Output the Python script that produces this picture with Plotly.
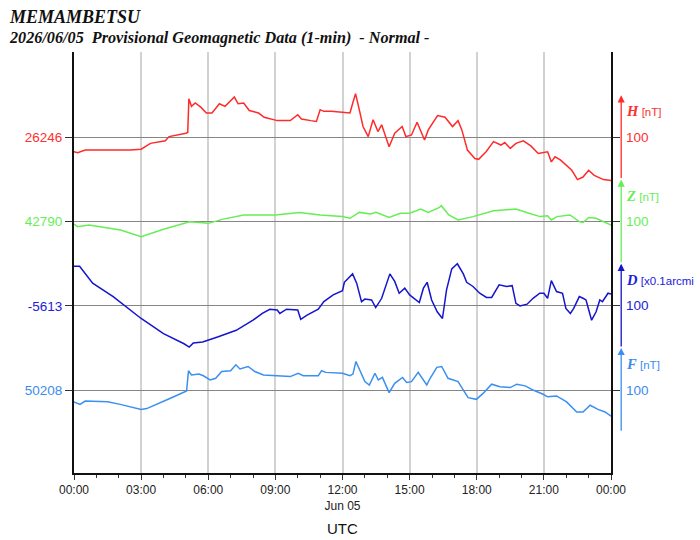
import plotly.graph_objects as go

# ---------------- data ----------------
H_time = ["00:00","00:10","00:30","01:30","02:30","03:00","03:25","04:05","04:15","05:00","05:05","05:08","05:15","05:25","05:40","05:55","06:10","06:30","06:45","07:10","07:20","07:35","07:50","08:15","08:30","09:05","09:40","10:00","10:10","10:35","10:50","11:00","11:10","11:30","12:00","12:20","12:27","12:35","12:45","12:55","13:09","13:22","13:35","13:45","14:05","14:20","14:40","14:50","15:05","15:20","15:40","15:50","16:15","16:35","16:55","17:10","17:20","17:35","17:55","18:05","18:25","18:45","19:05","19:15","19:30","19:45","20:05","20:25","20:45","21:10","21:20","21:30","21:45","22:15","22:30","22:45","23:00","23:15","23:40","24:00"]
H_val = [26229,26228,26231,26231,26231,26232,26239,26242,26247,26251,26252,26292,26283,26287,26282,26275,26275,26286,26283,26294,26286,26287,26278,26275,26270,26266,26266,26273,26268,26266,26265,26279,26277,26277,26276,26275,26286,26298,26279,26259,26247,26267,26253,26261,26235,26251,26259,26247,26249,26264,26243,26255,26272,26270,26259,26266,26255,26231,26221,26220,26229,26241,26237,26240,26233,26239,26242,26236,26227,26229,26217,26223,26219,26207,26196,26199,26207,26201,26196,26195]

Z_time = ["00:00","00:10","00:40","02:05","03:00","04:00","05:10","06:00","06:40","07:35","09:00","10:05","11:00","12:00","12:20","12:45","13:15","13:30","14:05","14:35","15:00","15:30","15:50","16:20","16:25","16:45","17:10","17:50","18:45","19:45","20:20","20:50","21:10","21:20","21:35","22:10","22:35","22:45","23:00","23:20","24:00"]
Z_val = [42787,42784,42786,42780,42772,42781,42790,42788,42793,42798,42798,42801,42798,42796,42794,42801,42799,42801,42795,42800,42800,42805,42801,42807,42809,42798,42792,42796,42803,42805,42800,42796,42797,42792,42796,42798,42790,42789,42795,42794,42786]

D_time = ["00:00","00:15","00:50","01:45","03:00","04:00","04:55","05:09","05:20","05:45","06:25","07:15","08:00","08:25","08:45","09:05","09:12","09:30","10:00","10:08","10:25","10:55","11:10","11:35","12:00","12:05","12:27","12:38","12:51","13:00","13:18","13:29","13:45","14:07","14:20","14:32","14:47","15:00","15:26","15:37","15:47","15:59","16:14","16:28","16:39","16:53","17:08","17:24","17:33","17:50","18:08","18:26","18:40","19:00","19:20","19:35","19:45","19:56","20:15","20:31","20:49","21:00","21:10","21:20","21:34","21:50","21:59","22:11","22:20","22:35","22:45","22:53","23:08","23:20","23:30","23:37","23:52","24:00"]
D_val = [-5566,-5566,-5586,-5602,-5628,-5646,-5658,-5662,-5657,-5656,-5650,-5642,-5630,-5622,-5617,-5618,-5622,-5617,-5618,-5629,-5624,-5617,-5608,-5600,-5595,-5585,-5575,-5586,-5608,-5605,-5606,-5615,-5604,-5575,-5584,-5598,-5592,-5600,-5609,-5592,-5585,-5606,-5620,-5628,-5594,-5569,-5563,-5575,-5585,-5590,-5598,-5603,-5603,-5588,-5590,-5589,-5610,-5613,-5611,-5604,-5598,-5598,-5604,-5583,-5596,-5598,-5616,-5622,-5616,-5602,-5604,-5606,-5630,-5620,-5606,-5608,-5598,-5599]

F_time = ["00:00","00:16","00:30","01:30","02:04","03:00","03:15","03:42","04:17","05:02","05:07","05:15","05:35","05:47","06:05","06:20","06:36","07:00","07:14","07:25","07:47","08:05","08:28","09:04","09:40","10:01","10:15","10:55","11:04","11:15","12:00","12:20","12:28","12:36","12:47","13:00","13:12","13:27","13:36","13:47","14:05","14:20","14:41","14:52","15:05","15:23","15:46","15:55","16:13","16:26","16:43","16:55","17:10","17:24","17:37","17:59","18:17","18:40","19:02","19:30","19:47","20:10","20:31","20:58","21:10","21:34","22:01","22:28","22:45","23:04","23:25","23:44","24:00"]
F_val = [50194,50191,50195,50194,50191,50185,50186,50191,50198,50207,50231,50226,50227,50225,50220,50222,50230,50231,50238,50233,50236,50230,50226,50225,50224,50228,50225,50225,50231,50229,50228,50225,50227,50242,50231,50218,50214,50228,50220,50223,50205,50216,50223,50217,50218,50229,50214,50222,50235,50236,50222,50220,50218,50208,50199,50197,50204,50215,50212,50211,50215,50213,50208,50203,50200,50201,50194,50182,50182,50190,50185,50182,50177]

components = ["H", "Z", "D", "F"]
baselines = [26246, 42790, -5613, 50208]
units = ["[nT]", "[nT]", "[x0.1arcmi", "[nT]"]
scale_label = "100"
colors = ["#ff2a2a", "#66ee55", "#1515cc", "#3a90f0"]
label_colors = ["#ff3030", "#66ee55", "#2020dd", "#3a8cf0"]
x_tickvals = ["00:00","03:00","06:00","09:00","12:00","15:00","18:00","21:00","24:00"]
x_ticktext = ["00:00","03:00","06:00","09:00","12:00<br>Jun 05","15:00","18:00","21:00","00:00"]
title1 = "MEMAMBETSU"
title2 = "2026/06/05\u00a0\u00a0Provisional Geomagnetic Data (1-min)\u00a0\u00a0- Normal -"


def ts(hm):
    h, m = hm.split(":")
    h = int(h)
    if h >= 24:
        return "2026-06-06 %02d:%s" % (h - 24, m)
    return "2026-06-05 %02d:%s" % (h, m)


times = [H_time, Z_time, D_time, F_time]
vals = [H_val, Z_val, D_val, F_val]

# plot-area geometry (pixels)
L, R, T, B = 74, 611.5, 52, 472.7
W, HH = 700, 540
pw, ph = R - L, B - T
span = 500.0          # units shown over the plot height
top_off = [101.5, 201.5, 301.5, 401.5]   # units above each baseline

fig = go.Figure()
axnames = ["y", "y2", "y3", "y4"]
for i in range(4):
    fig.add_trace(go.Scatter(
        x=[ts(t) for t in times[i]], y=vals[i], mode="lines",
        line=dict(color=colors[i], width=1.5), yaxis=axnames[i],
        showlegend=False, hoverinfo="skip"))

common_y = dict(
    showgrid=True, gridcolor="#858585", gridwidth=1, zeroline=False,
    showline=True, linecolor="#111111", linewidth=2, mirror="ticks",
    ticks="outside", ticklen=7, tickcolor="#333333", tickwidth=1,
)
layout_axes = {}
for i in range(4):
    key = "yaxis" if i == 0 else "yaxis%d" % (i + 1)
    top = baselines[i] + top_off[i]
    d = dict(common_y)
    d.update(range=[top - span, top], tickvals=[baselines[i]],
             ticktext=[str(baselines[i])],
             tickfont=dict(family="Liberation Sans, Arial", size=13.5,
                           color=label_colors[i]))
    if i > 0:
        d.update(overlaying="y", side="left")
    layout_axes[key] = d

annotations = []
# title lines
annotations.append(dict(xref="paper", yref="paper",
                        x=(7 - L) / pw, y=(B - 17.5) / ph, xanchor="left", yanchor="middle",
                        text="<b><i>%s</i></b>" % title1, showarrow=False,
                        font=dict(family="Liberation Serif, Times New Roman", size=18, color="#111")))
annotations.append(dict(xref="paper", yref="paper",
                        x=(7 - L) / pw, y=(B - 38.5) / ph, xanchor="left", yanchor="middle",
                        text="<b><i>%s</i></b>" % title2, showarrow=False,
                        font=dict(family="Liberation Serif, Times New Roman", size=16.2, color="#111")))
# axis title
annotations.append(dict(xref="paper", yref="paper", x=0.5, y=(B - 528) / ph,
                        xanchor="center", yanchor="middle", text="UTC", showarrow=False,
                        font=dict(family="Liberation Sans, Arial", size=15, color="#111")))

arrow_x = (621.7 - L) / pw
lab_x = (625 - L) / pw
for i in range(4):
    yr = axnames[i]
    # scale arrow: 100 units centred on baseline
    annotations.append(dict(xref="x domain", yref=yr, axref="x domain", ayref=yr,
                            x=arrow_x, y=baselines[i] + 50, ax=arrow_x, ay=baselines[i] - 50,
                            text="", showarrow=True, arrowhead=2, arrowsize=1.1,
                            arrowwidth=1.3, arrowcolor=colors[i], standoff=0, startstandoff=0))
    # scale value
    annotations.append(dict(xref="paper", yref=yr, x=lab_x, y=baselines[i],
                            xanchor="left", yanchor="middle", text=scale_label, showarrow=False,
                            font=dict(family="Liberation Sans, Arial", size=13.5, color=label_colors[i])))
    # component label
    annotations.append(dict(xref="paper", yref=yr, x=lab_x, y=baselines[i] + 31,
                            xanchor="left", yanchor="middle",
                            text="<b><i><span style='font-family:Liberation Serif;font-size:14.5px'>%s</span></i></b>"
                                 " <span style='font-size:11.5px'>%s</span>" % (components[i], units[i]),
                            showarrow=False,
                            font=dict(family="Liberation Sans, Arial", size=12, color=label_colors[i])))

fig.update_layout(
    width=W, height=HH, autosize=False,
    margin=dict(l=L, r=W - R, t=T, b=HH - B, pad=0),
    paper_bgcolor="white", plot_bgcolor="white",
    xaxis=dict(type="date", range=[ts("00:00"), ts("24:00")],
               tickvals=[ts(t) for t in x_tickvals], ticktext=x_ticktext,
               tickfont=dict(family="Liberation Sans, Arial", size=12, color="#222"),
               showgrid=True, gridcolor="#d2d2d2", gridwidth=1.8,
               showline=True, linecolor="#111", linewidth=2, zeroline=False,
               ticks="outside", ticklen=5, tickcolor="#333",
               minor=dict(dtick=3600000, ticks="outside", ticklen=3, tickcolor="#333", showgrid=False)),
    annotations=annotations,
    **layout_axes,
)

fig.write_html("out.html")
